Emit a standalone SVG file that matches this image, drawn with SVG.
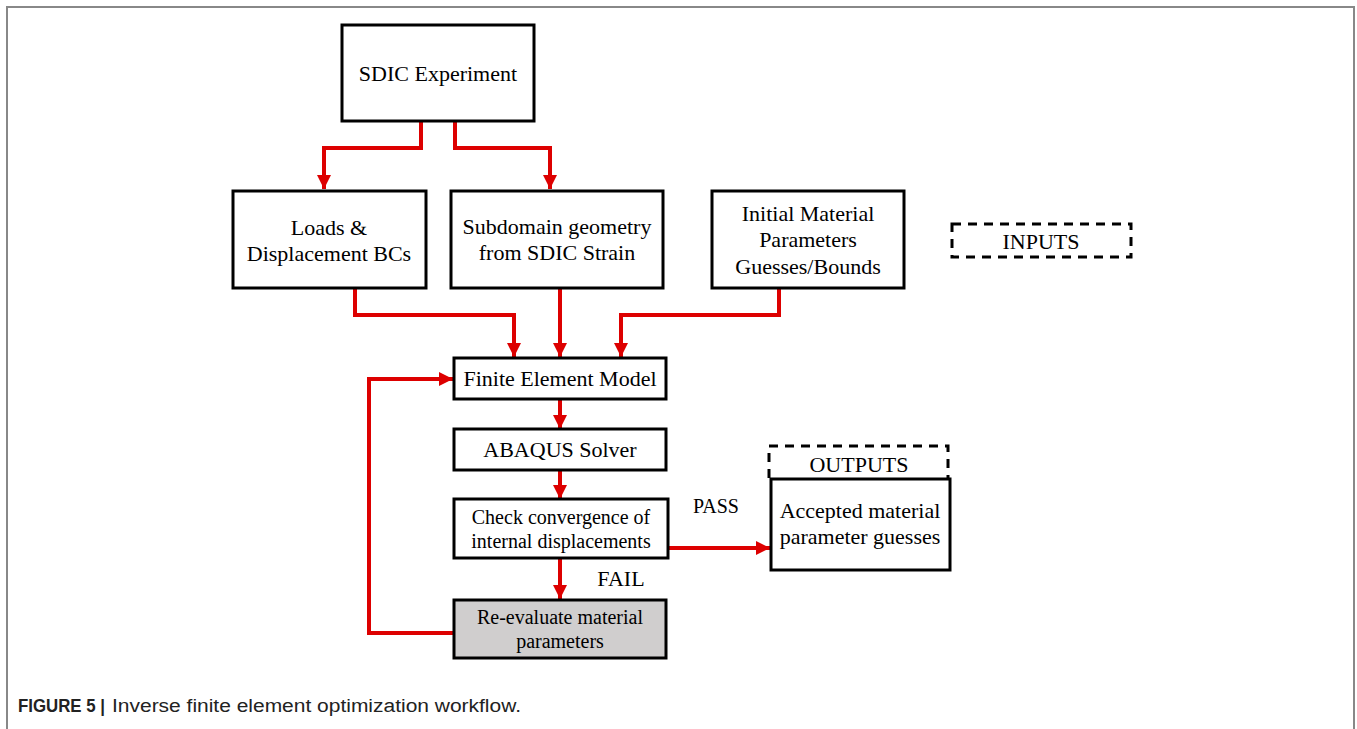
<svg xmlns="http://www.w3.org/2000/svg" width="1357" height="729" viewBox="0 0 1357 729">
<style>
.box{fill:#fff;stroke:#000;stroke-width:3}
.gray{fill:#d0cece}
.dash{fill:none;stroke:#000;stroke-width:3;stroke-dasharray:9,7}
.t{font-family:"Liberation Serif","Times New Roman",serif;font-size:22px;fill:#000;text-anchor:middle}
.s{font-size:20px}
.c{fill:none;stroke:#dd0000;stroke-width:4}
.cap{font-family:"Liberation Sans",Arial,sans-serif;font-size:18px;fill:#222}
</style>
<defs>
<marker id="ah" markerWidth="14" markerHeight="14" viewBox="0 0 14 14" refX="14" refY="7" orient="auto" markerUnits="userSpaceOnUse">
<path d="M0,0 L14,7 L0,14 Z" fill="#dd0000"/>
</marker>
</defs>
<rect x="7" y="7" width="1347" height="730" fill="#fff" stroke="#888" stroke-width="2"/>
<g id="connectors">
<path class="c" d="M421,121 V148 H324 V189" marker-end="url(#ah)"/>
<path class="c" d="M455,121 V148 H550 V189" marker-end="url(#ah)"/>
<path class="c" d="M355,288 V315 H514 V357" marker-end="url(#ah)"/>
<path class="c" d="M560,288 V357" marker-end="url(#ah)"/>
<path class="c" d="M779,288 V315 H621 V357" marker-end="url(#ah)"/>
<path class="c" d="M560,399 V429" marker-end="url(#ah)"/>
<path class="c" d="M560,470 V499" marker-end="url(#ah)"/>
<path class="c" d="M560,558 V599" marker-end="url(#ah)"/>
<path class="c" d="M668,548 H770" marker-end="url(#ah)"/>
<path class="c" d="M453,633 H369 V379 H453" marker-end="url(#ah)"/>
</g>
<g id="sdic">
<rect class="box" x="342" y="25" width="192" height="96"/>
<text class="t" x="438" y="81">SDIC Experiment</text>
</g>
<g id="loads">
<rect class="box" x="233" y="191" width="193" height="97"/>
<text class="t" x="329" y="235">Loads &amp;</text>
<text class="t" x="329" y="261">Displacement BCs</text>
</g>
<g id="subdomain">
<rect class="box" x="451" y="191" width="212" height="97"/>
<text class="t" x="557" y="234">Subdomain geometry</text>
<text class="t" x="557" y="260">from SDIC Strain</text>
</g>
<g id="initial">
<rect class="box" x="712" y="191" width="192" height="97"/>
<text class="t" x="808" y="221">Initial Material</text>
<text class="t" x="808" y="247">Parameters</text>
<text class="t" x="808" y="274">Guesses/Bounds</text>
</g>
<g id="inputs">
<rect class="dash" x="952" y="224" width="179" height="33"/>
<text class="t" x="1041" y="249">INPUTS</text>
</g>
<g id="fem">
<rect class="box" x="454" y="358" width="212" height="41"/>
<text class="t" x="560" y="386">Finite Element Model</text>
</g>
<g id="abaqus">
<rect class="box" x="454" y="429" width="212" height="41"/>
<text class="t" x="560" y="457">ABAQUS Solver</text>
</g>
<g id="check">
<rect class="box" x="454" y="499" width="214" height="59"/>
<text class="t s" x="561" y="524">Check convergence of</text>
<text class="t s" x="561" y="548">internal displacements</text>
<text class="t s" x="716" y="513">PASS</text>
<text class="t" x="621" y="586">FAIL</text>
</g>
<g id="reevaluate">
<rect class="box gray" x="454" y="600" width="212" height="58"/>
<text class="t s" x="560" y="624">Re-evaluate material</text>
<text class="t s" x="560" y="648">parameters</text>
</g>
<g id="outputs">
<path class="dash" d="M769,478 V446 H948 V478"/>
<text class="t" x="859" y="472">OUTPUTS</text>
</g>
<g id="accepted">
<rect class="box" x="771" y="479" width="179" height="91"/>
<text class="t" x="860" y="518">Accepted material</text>
<text class="t" x="860" y="544">parameter guesses</text>
</g>
<g id="caption">
<text class="cap" x="18" y="712" font-weight="bold" textLength="87" lengthAdjust="spacingAndGlyphs">FIGURE 5 |</text>
<text class="cap" x="112" y="712" textLength="409" lengthAdjust="spacingAndGlyphs">Inverse finite element optimization workflow.</text>
</g>
</svg>
